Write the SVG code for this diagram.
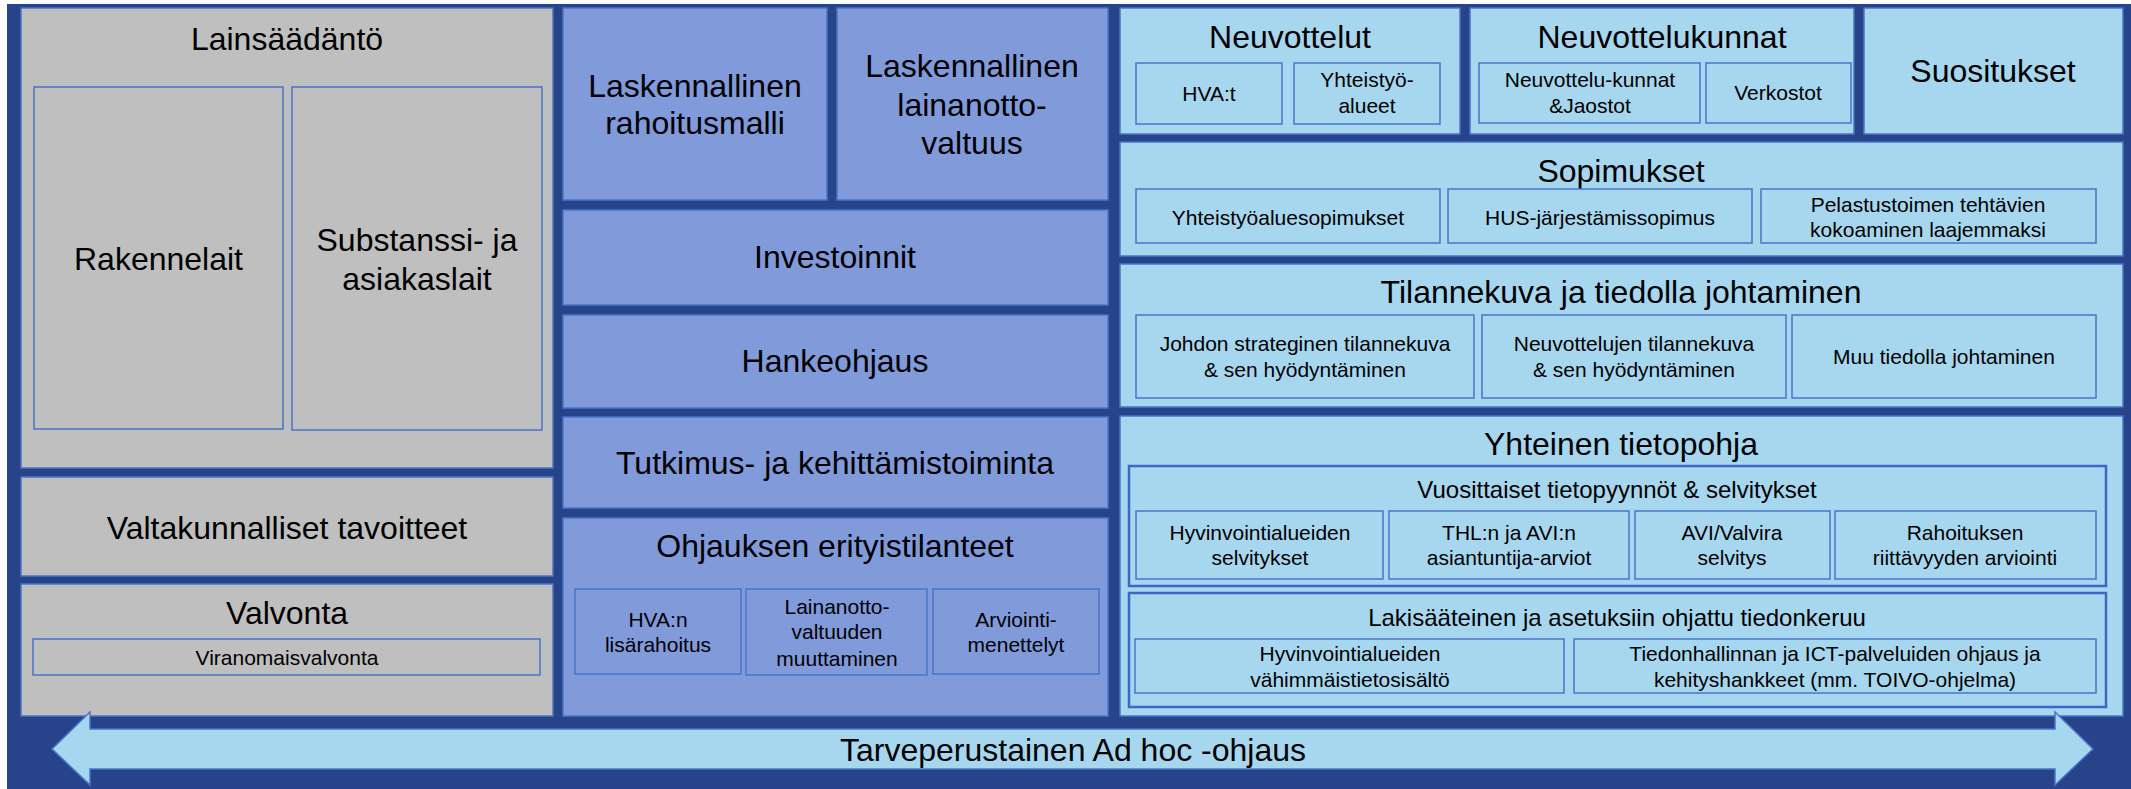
<svg xmlns="http://www.w3.org/2000/svg" width="2131" height="789" viewBox="0 0 2131 789">
<style>
text{font-family:"Liberation Sans",Arial,sans-serif;fill:#000;text-anchor:middle}
.t32{font-size:32px}
.t24{font-size:24px}
.t21{font-size:21px}
.gray{fill:#bfbfbf;stroke:#4a74c9;stroke-width:1.5}
.mid{fill:#809ada;stroke:#4a74c9;stroke-width:1.5}
.lt{fill:#a7d7ee;stroke:#4a74c9;stroke-width:1.5}
.sub{fill:none;stroke:#4a74c9;stroke-width:1.5}
.cont{fill:none;stroke:#3d66c9;stroke-width:2.5}
</style>
<rect x="0" y="0" width="2131" height="789" fill="#ffffff"/>
<rect x="7" y="4" width="2124" height="785" fill="#27448b"/>

<g id="lainsaadanto">
<rect class="gray" x="21" y="8" width="532" height="460"/>
<text class="t32" x="287" y="50">Lainsäädäntö</text>
</g>
<g id="rakennelait">
<rect class="sub" x="34" y="87" width="249" height="342"/>
<text class="t32" x="158.5" y="270">Rakennelait</text>
</g>
<g id="substanssilait">
<rect class="sub" x="292" y="87" width="250" height="343"/>
<text class="t32" x="417" y="251">Substanssi- ja</text>
<text class="t32" x="417" y="290">asiakaslait</text>
</g>
<g id="valtakunnalliset">
<rect class="gray" x="21" y="477" width="532" height="99"/>
<text class="t32" x="287" y="539">Valtakunnalliset tavoitteet</text>
</g>
<g id="valvonta">
<rect class="gray" x="21" y="584" width="532" height="132"/>
<text class="t32" x="287" y="624">Valvonta</text>
</g>
<g id="viranomaisvalvonta">
<rect class="sub" x="33" y="639" width="507" height="36"/>
<text class="t21" x="287" y="665">Viranomaisvalvonta</text>
</g>

<g id="rahoitusmalli">
<rect class="mid" x="563" y="8" width="264" height="192"/>
<text class="t32" x="695" y="97">Laskennallinen</text>
<text class="t32" x="695" y="134">rahoitusmalli</text>
</g>
<g id="lainanottovaltuus">
<rect class="mid" x="837" y="8" width="271" height="192"/>
<text class="t32" x="972" y="77">Laskennallinen</text>
<text class="t32" x="972" y="116">lainanotto-</text>
<text class="t32" x="972" y="154">valtuus</text>
</g>
<g id="investoinnit">
<rect class="mid" x="563" y="210" width="545" height="95"/>
<text class="t32" x="835" y="268">Investoinnit</text>
</g>
<g id="hankeohjaus">
<rect class="mid" x="563" y="315" width="545" height="93"/>
<text class="t32" x="835" y="372">Hankeohjaus</text>
</g>
<g id="tutkimus">
<rect class="mid" x="563" y="417" width="545" height="91"/>
<text class="t32" x="835" y="474">Tutkimus- ja kehittämistoiminta</text>
</g>
<g id="ohjauksen-erityistilanteet">
<rect class="mid" x="563" y="518" width="545" height="198"/>
<text class="t32" x="835" y="557">Ohjauksen erityistilanteet</text>
</g>
<g id="hvan-lisarahoitus">
<rect class="sub" x="575" y="589" width="166" height="85"/>
<text class="t21" x="658" y="627">HVA:n</text>
<text class="t21" x="658" y="652">lisärahoitus</text>
</g>
<g id="lainanottovaltuuden-muuttaminen">
<rect class="sub" x="746" y="589" width="181" height="86"/>
<text class="t21" x="837" y="614">Lainanotto-</text>
<text class="t21" x="837" y="639">valtuuden</text>
<text class="t21" x="837" y="666">muuttaminen</text>
</g>
<g id="arviointimenettelyt">
<rect class="sub" x="933" y="589" width="166" height="85"/>
<text class="t21" x="1016" y="627">Arviointi-</text>
<text class="t21" x="1016" y="652">menettelyt</text>
</g>

<g id="neuvottelut">
<rect class="lt" x="1120" y="8" width="340" height="126"/>
<text class="t32" x="1290" y="48">Neuvottelut</text>
</g>
<g id="hvat">
<rect class="sub" x="1136" y="63" width="146" height="61"/>
<text class="t21" x="1209" y="101">HVA:t</text>
</g>
<g id="yhteistyoalueet">
<rect class="sub" x="1294" y="63" width="146" height="61"/>
<text class="t21" x="1367" y="87">Yhteistyö-</text>
<text class="t21" x="1367" y="113">alueet</text>
</g>
<g id="neuvottelukunnat">
<rect class="lt" x="1470" y="8" width="384" height="126"/>
<text class="t32" x="1662" y="48">Neuvottelukunnat</text>
</g>
<g id="neuvottelukunnat-jaostot">
<rect class="sub" x="1479" y="63" width="221" height="60"/>
<text class="t21" x="1590" y="87">Neuvottelu-kunnat</text>
<text class="t21" x="1590" y="113">&amp;Jaostot</text>
</g>
<g id="verkostot">
<rect class="sub" x="1706" y="63" width="145" height="60"/>
<text class="t21" x="1778" y="100">Verkostot</text>
</g>
<g id="suositukset">
<rect class="lt" x="1864" y="8" width="259" height="126"/>
<text class="t32" x="1993" y="82">Suositukset</text>
</g>

<g id="sopimukset">
<rect class="lt" x="1120" y="142" width="1003" height="114"/>
<text class="t32" x="1621" y="182">Sopimukset</text>
</g>
<g id="yhteistyoaluesopimukset">
<rect class="sub" x="1136" y="189" width="304" height="54"/>
<text class="t21" x="1288" y="225">Yhteistyöaluesopimukset</text>
</g>
<g id="hus">
<rect class="sub" x="1448" y="189" width="304" height="54"/>
<text class="t21" x="1600" y="225">HUS-järjestämissopimus</text>
</g>
<g id="pelastustoimi">
<rect class="sub" x="1761" y="189" width="335" height="54"/>
<text class="t21" x="1928" y="212">Pelastustoimen tehtävien</text>
<text class="t21" x="1928" y="237">kokoaminen laajemmaksi</text>
</g>

<g id="tilannekuva">
<rect class="lt" x="1120" y="264" width="1003" height="143"/>
<text class="t32" x="1621" y="303">Tilannekuva ja tiedolla johtaminen</text>
</g>
<g id="johdon-tilannekuva">
<rect class="sub" x="1136" y="315" width="338" height="83"/>
<text class="t21" x="1305" y="351">Johdon strateginen tilannekuva</text>
<text class="t21" x="1305" y="377">&amp; sen hyödyntäminen</text>
</g>
<g id="neuvottelujen-tilannekuva">
<rect class="sub" x="1482" y="315" width="304" height="83"/>
<text class="t21" x="1634" y="351">Neuvottelujen tilannekuva</text>
<text class="t21" x="1634" y="377">&amp; sen hyödyntäminen</text>
</g>
<g id="muu-tiedolla-johtaminen">
<rect class="sub" x="1792" y="315" width="304" height="83"/>
<text class="t21" x="1944" y="364">Muu tiedolla johtaminen</text>
</g>

<g id="yhteinen-tietopohja">
<rect class="lt" x="1120" y="416" width="1003" height="300"/>
<text class="t32" x="1621" y="455">Yhteinen tietopohja</text>
</g>
<g id="vuosittaiset">
<rect class="cont" x="1129" y="466" width="977" height="120"/>
<text class="t24" x="1617" y="498">Vuosittaiset tietopyynnöt &amp; selvitykset</text>
</g>
<g id="hyvinvointialueiden-selvitykset">
<rect class="sub" x="1136" y="511" width="247" height="68"/>
<text class="t21" x="1260" y="540">Hyvinvointialueiden</text>
<text class="t21" x="1260" y="565">selvitykset</text>
</g>
<g id="thl-avi">
<rect class="sub" x="1389" y="511" width="240" height="68"/>
<text class="t21" x="1509" y="540">THL:n ja AVI:n</text>
<text class="t21" x="1509" y="565">asiantuntija-arviot</text>
</g>
<g id="avi-valvira">
<rect class="sub" x="1635" y="511" width="195" height="68"/>
<text class="t21" x="1732" y="540">AVI/Valvira</text>
<text class="t21" x="1732" y="565">selvitys</text>
</g>
<g id="rahoituksen-arviointi">
<rect class="sub" x="1835" y="511" width="261" height="68"/>
<text class="t21" x="1965" y="540">Rahoituksen</text>
<text class="t21" x="1965" y="565">riittävyyden arviointi</text>
</g>
<g id="lakisaateinen">
<rect class="cont" x="1129" y="593" width="977" height="114"/>
<text class="t24" x="1617" y="626">Lakisääteinen ja asetuksiin ohjattu tiedonkeruu</text>
</g>
<g id="vahimmaistietosisalto">
<rect class="sub" x="1135" y="639" width="429" height="54"/>
<text class="t21" x="1350" y="661">Hyvinvointialueiden</text>
<text class="t21" x="1350" y="687">vähimmäistietosisältö</text>
</g>
<g id="tiedonhallinta-ict">
<rect class="sub" x="1574" y="639" width="522" height="54"/>
<text class="t21" x="1835" y="661">Tiedonhallinnan ja ICT-palveluiden ohjaus ja</text>
<text class="t21" x="1835" y="687">kehityshankkeet (mm. TOIVO-ohjelma)</text>
</g>

<g id="connectors">
<g id="adhoc-arrow">
<polygon points="52,749 90,712 90,729 2055,729 2055,712 2093,749 2055,785 2055,769 90,769 90,785" fill="#a7d7ee" stroke="#4a74c9" stroke-width="1.5"/>
<text class="t32" x="1073" y="761">Tarveperustainen Ad hoc -ohjaus</text>
</g>
</g>
</svg>
